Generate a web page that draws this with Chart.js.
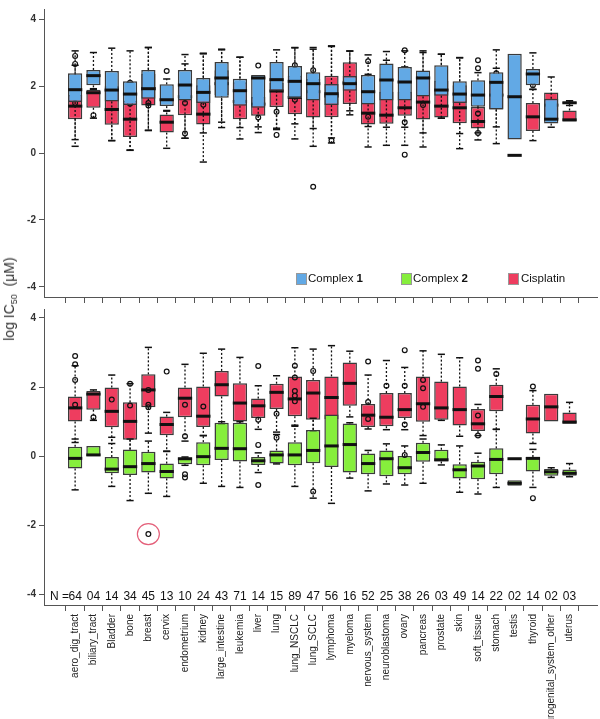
<!DOCTYPE html>
<html>
<head>
<meta charset="utf-8">
<script src="https://cdn.jsdelivr.net/npm/chart.js@4.4.1/dist/chart.umd.min.js"></script>
<style>
  body { margin: 0; background: #fff; width: 600px; height: 719px; position: relative; overflow: hidden;
         font-family: "Liberation Sans", Arial, sans-serif; }
  #topChart { position: absolute; left: 0; top: 0; }
  #bottomChart { position: absolute; left: 0; top: 300px; }
  .lg { position: absolute; top: 272px; font-size: 11.5px; line-height: 13px; color: #111; white-space: nowrap; }
  .sw { position: absolute; top: 273px; width: 9px; height: 10px; border: 1px solid #999; }
  #ytitle { position: absolute; left: 10px; top: 299px; transform: translate(-50%, -50%) rotate(-90deg);
            font-size: 14px; font-weight: normal; color: #333; white-space: nowrap; }
  #ytitle sub { font-size: 9px; vertical-align: -3px; }
</style>
</head>
<body>
<canvas id="topChart" width="600" height="306"></canvas>
<canvas id="bottomChart" width="600" height="419"></canvas>
<div id="ytitle">log IC<sub>50</sub>&nbsp; (μM)</div>
<div class="sw" style="left:296px;background:#62A9E5"></div><div class="lg" style="left:308px">Complex <b>1</b></div>
<div class="sw" style="left:401px;background:#86EE3C"></div><div class="lg" style="left:413px">Complex <b>2</b></div>
<div class="sw" style="left:508px;background:#EE3D5F"></div><div class="lg" style="left:521px">Cisplatin</div>
<script>
// cell lines per tissue and their counts
const categories = ['aero_dig_tract', 'biliary_tract', 'Bladder', 'bone', 'breast', 'cervix', 'endometrium',
  'kidney', 'large_intestine', 'leukemia', 'liver', 'lung', 'lung_NSCLC', 'lung_SCLC', 'lymphoma', 'myeloma',
  'nervous_system', 'neuroblastoma', 'ovary', 'pancreas', 'prostate', 'skin', 'soft_tissue', 'stomach',
  'testis', 'thyroid', 'urogenital_system_other', 'uterus'];
const counts = ['64', '04', '14', '34', '45', '13', '10', '24', '43', '71', '14', '15', '89', '47', '56', '16',
  '52', '25', '38', '26', '03', '49', '14', '22', '02', '14', '02', '03'];
const yTicks = [-4, -2, 0, 2, 4];

// Complex 1 (log IC50)
const c1Min = [0.2, 1.9, 0.37, 0.09, 0.68, 1.25, 0.44, -0.27, 0.76, 0.42, 0.61, 0.74, 0.42, 0.2, 0.45, 1.26,
  0.18, 0.23, 0.23, 0.18, 1.04, 0.13, 0.39, 0.28, 0.40, 1.9, 0.77, 1.42];
const c1Q1 = [1.52, 2.02, 1.54, 1.43, 1.62, 1.40, 1.57, 1.49, 1.65, 1.41, 1.35, 1.86, 1.64, 1.57, 1.43, 1.86,
  1.45, 1.57, 1.57, 1.69, 1.71, 1.49, 1.38, 1.30, 0.40, 2.02, 0.88, 1.47];
const c1Median = [1.89, 2.31, 1.88, 1.76, 1.92, 1.59, 2.03, 1.81, 2.24, 1.86, 2.24, 2.19, 2.14, 2.07, 1.77, 2.07,
  1.83, 2.18, 2.12, 2.24, 1.88, 1.76, 1.73, 2.11, 1.68, 2.36, 1.01, 1.50];
const c1Q3 = [2.38, 2.48, 2.45, 2.14, 2.48, 2.05, 2.48, 2.24, 2.72, 2.22, 2.33, 2.72, 2.60, 2.41, 2.06, 2.30,
  2.33, 2.67, 2.57, 2.46, 2.62, 2.14, 2.17, 2.41, 2.96, 2.51, 1.62, 1.52];
const c1Max = [3.05, 3.0, 3.13, 3.05, 3.15, 2.21, 2.94, 2.96, 3.08, 2.86, 2.33, 3.08, 3.15, 3.15, 3.18, 3.05,
  2.93, 3.03, 3.05, 3.0, 2.95, 2.84, 2.4, 3.08, 2.96, 2.99, 2.27, 1.56];
const c1Outliers = [[], [], [], [], [], [], [], [], [], [], [], [], [], [-1.01], [0.37], [], [], [], [-0.05],
  [], [], [], [], [], [], [], [], []];

// Complex 2
const c2Min = [-0.97, 0.01, -0.87, -1.28, -1.07, -1.16, -0.26, -0.78, -0.87, -0.90, -0.47, -0.22, -0.87, -1.21,
  -1.36, -0.63, -1.0, -0.80, -0.83, -0.78, -0.25, -1.04, -1.09, -0.9, -0.85, -0.9, -0.61, -0.59];
const c2Q1 = [-0.35, 0.01, -0.49, -0.54, -0.47, -0.64, -0.23, -0.26, -0.11, -0.15, -0.25, -0.21, -0.26, -0.20,
  -0.31, -0.47, -0.52, -0.58, -0.52, -0.16, -0.15, -0.64, -0.66, -0.52, -0.85, -0.44, -0.56, -0.56];
const c2Median = [-0.06, 0.04, -0.37, -0.30, -0.21, -0.44, -0.07, -0.01, 0.23, 0.22, -0.13, 0.04, 0.04, 0.17,
  0.30, 0.34, -0.21, -0.07, -0.33, 0.11, -0.10, -0.39, -0.28, -0.09, -0.78, -0.06, -0.45, -0.49];
const c2Q3 = [0.28, 0.30, -0.02, 0.20, 0.13, -0.21, -0.04, 0.41, 0.97, 0.97, -0.02, 0.17, 0.41, 0.76, 1.21,
  0.95, 0.08, 0.17, 0.01, 0.39, 0.19, -0.23, -0.16, 0.23, -0.69, -0.02, -0.37, -0.38];
const c2Max = [0.5, 0.30, 0.55, 0.5, 0.44, 0.15, -0.02, 0.6, 1.0, 1.0, 0.1, 0.63, 0.9, 1.1, 1.21, 0.97, 0.17,
  0.36, 0.3, 0.5, 0.33, 0.3, 0.09, 0.78, -0.69, 0.2, -0.33, -0.21];
const c2Outliers = [[], [], [], [], [-2.25], [], [-0.52, -0.61], [], [], [], [0.33, -0.83], [], [], [-1.02],
  [], [], [], [], [0.04], [], [], [], [], [], [], [-1.21], [], []];

// Cisplatin
const cisMin = [0.4, 1.04, 0.37, 0.08, 0.67, 0.14, 0.44, 0.6, 0.92, 0.76, 0.78, 0.7, 0.87, 0.73, 0.3, 1.14,
  0.79, 0.77, 0.77, 0.6, 1.04, 0.58, 0.6, 0.78, -0.07, 0.37, 1.01, 0.94];
const cisQ1 = [1.01, 1.35, 0.84, 0.48, 1.42, 0.61, 1.13, 0.85, 1.73, 1.01, 1.11, 1.37, 1.16, 1.06, 1.07, 1.46,
  0.85, 0.87, 1.11, 1.00, 1.06, 0.89, 0.73, 1.30, -0.07, 0.66, 1.01, 0.94];
const cisMedian = [1.40, 1.80, 1.30, 1.01, 1.92, 0.92, 1.68, 1.16, 2.07, 1.54, 1.46, 1.85, 1.66, 1.83, 1.70,
  2.11, 1.19, 1.13, 1.35, 1.52, 1.40, 1.35, 0.94, 1.73, -0.07, 1.08, 1.43, 0.99];
const cisQ3 = [1.73, 1.89, 1.99, 1.56, 2.37, 1.15, 1.99, 2.02, 2.47, 2.11, 1.67, 2.10, 2.31, 2.21, 2.31, 2.71,
  1.51, 1.83, 1.83, 2.31, 2.16, 2.02, 1.37, 2.07, -0.07, 1.49, 1.81, 1.27];
const cisMax = [2.62, 1.92, 2.35, 2.10, 3.15, 1.27, 2.66, 2.98, 3.10, 2.86, 2.04, 2.33, 3.14, 3.10, 3.20, 3.04,
  2.35, 2.77, 2.57, 3.05, 2.95, 2.85, 1.50, 2.53, -0.07, 1.90, 1.81, 1.56];
const cisOutliers = [[2.90, 2.66, 2.21, 1.49], [1.13], [1.64], [2.10, 1.47], [1.92, 1.49, 1.42], [2.45],
  [1.49, 0.58], [1.44], [], [], [2.61, 1.06], [1.23, 0.54], [2.62, 2.28, 1.89, 1.75, 1.59], [2.47], [], [],
  [2.74, 1.57, 1.08], [2.04], [3.07, 2.04, 0.92], [2.21, 1.97, 1.43], [], [], [2.77, 2.53, 1.18, 0.60], [2.38],
  [], [2.02], [], []];

const BLUE = '#62A9E5', GREEN = '#86EE3C', RED = '#EE3D5F', AXIS = '#555';
Chart.defaults.font.family = "'Liberation Sans', Arial, sans-serif";
Chart.defaults.animation = false;

function boxDataset(label, color, q1, median, q3, min, max, outliers) {
  return {
    label: label,
    data: q1.map((v, i) => ({ x: i, y: [v, q3[i]] })),
    backgroundColor: color,
    borderColor: '#3a3a3a',
    borderWidth: 1.5,
    borderSkipped: false,
    grouped: false,
    barPercentage: 0.78,
    categoryPercentage: 1,
    stats: { q1, median, q3, min, max, outliers }
  };
}

function line(ctx, x1, y1, x2, y2) {
  ctx.beginPath(); ctx.moveTo(x1, y1); ctx.lineTo(x2, y2); ctx.stroke();
}

// whiskers, caps, median and outliers, drawn right after each dataset's boxes
const boxParts = {
  id: 'boxParts',
  afterDatasetDraw(chart, args) {
    const st = chart.data.datasets[args.index].stats;
    const ctx = chart.ctx, xs = chart.scales.x, ys = chart.scales.y;
    ctx.save();
    ctx.strokeStyle = '#111';
    args.meta.data.forEach((bar, i) => {
      const x = xs.getPixelForValue(i);
      const w = bar.width;
      const yq1 = ys.getPixelForValue(st.q1[i]), yq3 = ys.getPixelForValue(st.q3[i]);
      const ymin = ys.getPixelForValue(st.min[i]), ymax = ys.getPixelForValue(st.max[i]);
      ctx.lineWidth = 1.3;
      ctx.setLineDash([2, 2]);
      if (st.max[i] > st.q3[i]) line(ctx, x, yq3, x, ymax);
      if (st.min[i] < st.q1[i]) line(ctx, x, yq1, x, ymin);
      ctx.setLineDash([]);
      ctx.lineWidth = 1.5;
      if (st.max[i] > st.q3[i]) line(ctx, x - w / 4, ymax, x + w / 4, ymax);
      if (st.min[i] < st.q1[i]) line(ctx, x - w / 4, ymin, x + w / 4, ymin);
      ctx.lineWidth = 3;
      const ym = ys.getPixelForValue(st.median[i]);
      line(ctx, x - w / 2, ym, x + w / 2, ym);
      ctx.lineWidth = 1.2;
      st.outliers[i].forEach(v => {
        ctx.beginPath();
        ctx.arc(x, ys.getPixelForValue(v), 2.4, 0, Math.PI * 2);
        ctx.stroke();
      });
    });
    ctx.restore();
  }
};

// N counts along the bottom and the highlighted breast outlier
const bottomExtras = {
  id: 'bottomExtras',
  afterDraw(chart) {
    const ctx = chart.ctx, xs = chart.scales.x, ys = chart.scales.y;
    ctx.save();
    ctx.fillStyle = '#111';
    ctx.font = "12px 'Liberation Sans', Arial, sans-serif";
    ctx.textBaseline = 'middle';
    const yN = ys.getPixelForValue(-4) + 2;
    ctx.textAlign = 'right';
    ctx.fillText('N =', xs.getPixelForValue(0) - 6, yN);
    ctx.textAlign = 'center';
    counts.forEach((n, i) => ctx.fillText(n, xs.getPixelForValue(i), yN));
    ctx.strokeStyle = '#E4607A';
    ctx.lineWidth = 1.2;
    ctx.beginPath();
    ctx.ellipse(xs.getPixelForValue(4), ys.getPixelForValue(-2.25), 11, 10.5, 0, 0, Math.PI * 2);
    ctx.stroke();
    ctx.restore();
  }
};

function makeOptions(yMin, yMax, showLabels, xHeight, padTop) {
  return {
    responsive: false,
    layout: { padding: { top: padTop, right: 3, left: 0, bottom: 0 } },
    plugins: { legend: { display: false }, tooltip: { enabled: false } },
    scales: {
      x: {
        type: 'linear', min: -1.7, max: 28.5, offset: false,
        afterBuildTicks: axis => { axis.ticks = categories.map((c, i) => ({ value: i })); },
        afterFit: axis => { axis.height = xHeight; },
        ticks: {
          display: showLabels, autoSkip: false, minRotation: 90, maxRotation: 90, padding: 3,
          color: '#222', font: { size: 10 },
          callback: v => categories[v] || ''
        },
        grid: { drawOnChartArea: false, drawTicks: true, tickLength: 6, color: AXIS },
        border: { display: true, color: AXIS, width: 1 }
      },
      y: {
        min: yMin, max: yMax,
        afterBuildTicks: axis => { axis.ticks = yTicks.map(v => ({ value: v })); },
        afterFit: axis => { axis.width = 44; },
        ticks: { color: '#333', padding: 3, font: { size: 10, weight: 'bold' }, callback: v => String(v) },
        grid: { drawOnChartArea: false, drawTicks: true, tickLength: 5, color: AXIS },
        border: { display: true, color: AXIS, width: 1 }
      }
    }
  };
}

new Chart(document.getElementById('topChart'), {
  type: 'bar',
  data: {
    datasets: [
      boxDataset('Complex 1', BLUE, c1Q1, c1Median, c1Q3, c1Min, c1Max, c1Outliers),
      boxDataset('Cisplatin', RED, cisQ1, cisMedian, cisQ3, cisMin, cisMax, cisOutliers)
    ]
  },
  options: makeOptions(-4.3, 4.3, false, 7, 0),
  plugins: [boxParts]
});

new Chart(document.getElementById('bottomChart'), {
  type: 'bar',
  data: {
    datasets: [
      boxDataset('Complex 2', GREEN, c2Q1, c2Median, c2Q3, c2Min, c2Max, c2Outliers),
      boxDataset('Cisplatin', RED, cisQ1, cisMedian, cisQ3, cisMin, cisMax, cisOutliers)
    ]
  },
  options: makeOptions(-4.3, 4.26, true, 114, 7),
  plugins: [boxParts, bottomExtras]
});
</script>
</body>
</html>
